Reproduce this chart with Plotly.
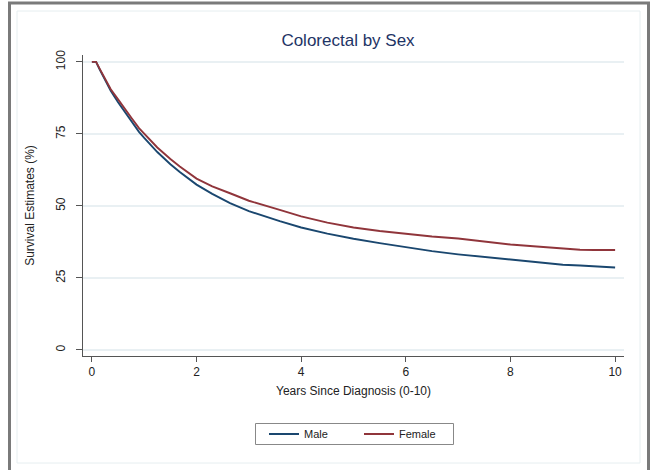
import plotly.graph_objects as go

# Data (Kaplan-Meier survival estimates, %)
years = [0, 0.08, 0.15, 0.25, 0.36, 0.5, 0.61, 0.75, 0.9, 1.0, 1.25, 1.5, 1.68, 2.0,
         2.3, 2.64, 3.0, 3.59, 4.0, 4.5, 5.0, 5.5, 6.0, 6.5, 7.0, 7.5, 8.0, 8.5,
         9.0, 9.33, 9.6, 10.0]
male = [100, 100, 97.3, 93.8, 90, 86.0, 83.1, 79.6, 75.7, 73.6, 68.7, 64.5, 61.8, 57.4,
        54.2, 51.0, 48.2, 44.7, 42.5, 40.4, 38.6, 37.1, 35.6, 34.3, 33.2, 32.3, 31.5, 30.5,
        29.6, 29.3, 29.0, 28.6]
female = [100, 100, 97.6, 94.4, 90.5, 87.0, 84.1, 80.7, 77.0, 75.0, 70.3, 66.3, 63.7, 59.5,
          56.8, 54.4, 51.8, 48.6, 46.4, 44.2, 42.5, 41.3, 40.3, 39.4, 38.7, 37.6, 36.6, 35.9,
          35.2, 34.8, 34.7, 34.7]
x_ticks = [0, 2, 4, 6, 8, 10]
y_ticks = [0, 25, 50, 75, 100]

W, H = 651, 470
L, R, T, B = 83, 624, 55, 356  # plot area in pixels


def px(x):
    return (x - L) / (R - L)


def py(y):
    return (B - y) / (B - T)


font = "Liberation Sans, Arial, sans-serif"

fig = go.Figure()
fig.add_trace(go.Scatter(x=years, y=male, mode="lines", name="Male",
                         line=dict(color="#1a476f", width=1.9)))
fig.add_trace(go.Scatter(x=years, y=female, mode="lines", name="Female",
                         line=dict(color="#90353b", width=1.9)))

fig.update_layout(
    width=W, height=H,
    margin=dict(l=L, r=W - R, t=T, b=H - B),
    paper_bgcolor="white", plot_bgcolor="white",
    font=dict(family=font, size=12, color="#222"),
    title=dict(text="Colorectal by Sex", x=348 / W, xref="container", xanchor="center",
               y=1 - 40 / H, yref="container", yanchor="middle",
               font=dict(size=17, color="#1e3465", family=font)),
    showlegend=True,
    legend=dict(orientation="h", x=px(264), xanchor="left",
                y=py(434), yanchor="middle", borderwidth=0,
                bgcolor="rgba(0,0,0,0)", font=dict(size=11, color="#222"),
                entrywidth=50, entrywidthmode="pixels", tracegroupgap=0),
    xaxis=dict(range=[-0.17, 10.17], tickvals=x_ticks, ticks="outside", ticklen=5,
               tickcolor="#555", showline=True, linecolor="#555", linewidth=1,
               showgrid=False, zeroline=False,
               title=dict(text="Years Since Diagnosis (0-10)", standoff=8,
                          font=dict(size=12, color="#222")),
               tickfont=dict(size=12, color="#222")),
    yaxis=dict(range=[-2.1, 102.4], tickvals=y_ticks, ticks="outside", ticklen=6,
               tickcolor="#555", showline=True, linecolor="#555", linewidth=1,
               showgrid=True, gridcolor="#e9f0f3", gridwidth=1.5, zeroline=False,
               tickangle=-90, ticklabelstandoff=6,
               title=dict(text="Survival Estimates (%)", standoff=17,
                          font=dict(size=12, color="#222")),
               tickfont=dict(size=12, color="#222")),
)

# outer gray frame, faint inner frame, legend box
fig.add_shape(type="rect", xref="paper", yref="paper",
              x0=px(9.5), x1=px(648.5), y0=py(480), y1=py(3),
              line=dict(color="#7a7a7a", width=3), layer="above")
fig.add_shape(type="rect", xref="paper", yref="paper",
              x0=px(17), x1=px(640), y0=py(463), y1=py(11),
              line=dict(color="#e6eef0", width=1), layer="below")
fig.add_shape(type="rect", xref="paper", yref="paper",
              x0=px(255.5), x1=px(453.5), y0=py(444.5), y1=py(423.5),
              line=dict(color="#888", width=1), fillcolor="rgba(0,0,0,0)", layer="above")

fig.write_html("out.html")
